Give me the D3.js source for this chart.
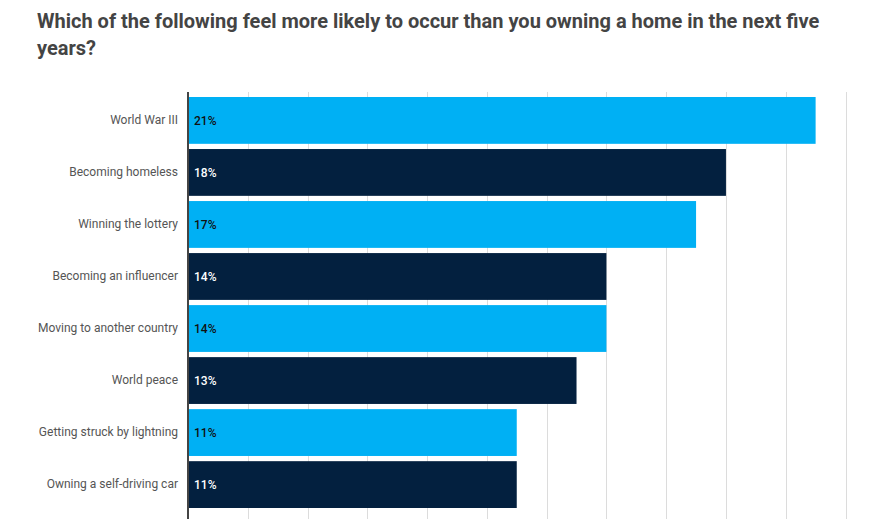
<!DOCTYPE html>
<html>
<head>
<meta charset="utf-8">
<script src="https://d3js.org/d3.v7.min.js"></script>
<style>
  body { margin: 0; background: #fff; }
  text { font-family: Roboto, "Noto Sans", sans-serif; }
</style>
</head>
<body>
<script>
    // chart values
    let categories = ["World War III", "Becoming homeless", "Winning the lottery",
        "Becoming an influencer", "Moving to another country", "World peace",
        "Getting struck by lightning", "Owning a self-driving car"];
    let values = [21, 18, 17, 14, 14, 13, 11, 11];
    let ticks = [0, 2, 4, 6, 8, 10, 12, 14, 16, 18, 20, 22];
    let titleLines = ["Which of the following feel more likely to occur than you owning a home in the next five",
        "years?"];

    let width = 871,
        height = 523;

    let svg = d3.select("body").append("svg")
        .attr("width", width)
        .attr("height", height);

    // title
    svg.append("g")
        .selectAll("text")
        .data(titleLines)
        .join("text")
            .attr("x", 37)
            .attr("y", function (d, i) { return 28 + i * 27; })
            .attr("fill", "#444")
            .style("font-size", "20px")
            .style("font-weight", "bold")
            .text(function (d) { return d; });

    let x = d3.scaleLinear()
        .domain([0, 22])
        .range([188, 845.5]);

    let y = d3.scaleBand()
        .domain(categories)
        .range([94.4, 510.6])
        .paddingInner(0.1)
        .paddingOuter(0.05);

    // vertical grid lines
    svg.append("g")
        .selectAll("line")
        .data(ticks.slice(1))
        .join("line")
            .attr("x1", function (d) { return Math.round(x(d)) + 0.5; })
            .attr("x2", function (d) { return Math.round(x(d)) + 0.5; })
            .attr("y1", 92)
            .attr("y2", 519)
            .attr("stroke", "#dcdcdc")
            .attr("stroke-width", 1);

    // bars
    svg.append("g")
        .selectAll("rect")
        .data(values)
        .join("rect")
            .attr("x", x(0))
            .attr("y", function (d, i) { return y(categories[i]); })
            .attr("width", function (d) { return x(d) - x(0); })
            .attr("height", y.bandwidth())
            .attr("fill", function (d, i) { return i % 2 == 0 ? "#00b0f4" : "#03203f"; });

    // value labels inside the bars
    svg.append("g")
        .selectAll("text")
        .data(values)
        .join("text")
            .attr("x", x(0) + 6)
            .attr("y", function (d, i) { return y(categories[i]) + y.bandwidth() / 2; })
            .attr("dy", "0.35em")
            .attr("fill", function (d, i) { return i % 2 == 0 ? "#111" : "#fff"; })
            .style("font-size", "12px")
            .style("font-weight", "500")
            .text(function (d) { return d + "%"; });

    // category axis
    let yAxis = d3.axisLeft(y).tickSize(0).tickPadding(10);
    let gy = svg.append("g")
        .attr("transform", "translate(" + x(0) + ",0)")
        .call(yAxis);
    gy.select(".domain").remove();
    gy.selectAll("text")
        .attr("fill", "#555")
        .style("font-size", "12px")
        .style("font-family", "Roboto, 'Noto Sans', sans-serif");

    svg.append("line")
        .attr("x1", x(0))
        .attr("x2", x(0))
        .attr("y1", 92)
        .attr("y2", 519)
        .attr("stroke", "#444")
        .attr("stroke-width", 2);
</script>
</body>
</html>
